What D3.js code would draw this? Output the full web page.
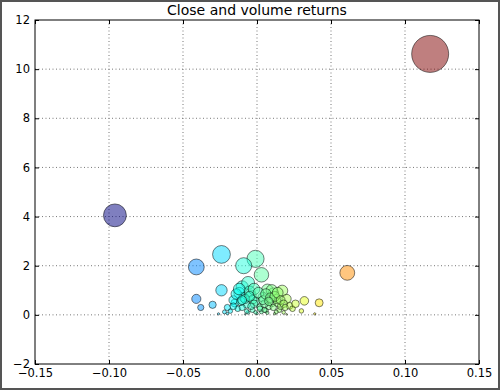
<!DOCTYPE html>
<html>
<head>
<meta charset="utf-8">
<script src="https://cdn.jsdelivr.net/npm/d3@7"></script>
<style>
  body { margin: 0; background: #fff; }
  svg { display: block; font-family: "DejaVu Sans", sans-serif; }
</style>
</head>
<body>
<svg id="chart" width="500" height="390"></svg>
<script>
// close returns (x) and volume returns (y), only the points that get drawn
const closeReturns = [
  0.117, -0.096, 0.061, -0.041, -0.024, -0.001, -0.009, 0.003, -0.024, -0.041,
  -0.038, -0.030, -0.020, -0.026, -0.010, -0.006, 0.007, 0.017, 0.020, 0.022,
  0.032, 0.042, 0.030, 0.039, -0.012, -0.009, -0.015, -0.007, -0.004, 0.004,
  0.011, 0.010, 0.014, 0.002, -0.003, 0.006, 0.015, 0.018, -0.018, -0.013,
  -0.022, -0.001, 0.008, -0.006, 0.000, 0.012, -0.016, -0.005, 0.013, 0.005,
  -0.010, 0.024, -0.002, 0.010, 0.016, -0.011, 0.003, -0.008, 0.020, -0.020,
  0.026, -0.003,
  -0.014, -0.012, -0.008, -0.005, -0.002, 0.001, 0.004, 0.006, 0.009, 0.012,
  0.014, 0.016, 0.018, 0.008, 0.002, -0.004, -0.010, -0.016, 0.011, 0.005,
  -0.007, 0.019, 0.013, -0.001, 0.007
];
const volumeReturns = [
  10.62, 4.05, 1.71, 1.95, 2.46, 2.28, 2.00, 1.63, 1.00, 0.65,
  0.30, 0.41, 0.30, 0.04, 1.14, 1.30, 1.02, 0.98, 0.65, 0.37,
  0.57, 0.49, 0.16, 0.04, 0.90, 0.72, 0.48, 0.42, 0.80, 0.72,
  0.88, 0.50, 0.50, 0.32, 0.20, 0.18, 0.20, 0.10, 0.15, 0.25,
  0.12, 0.55, 0.35, 0.10, 0.05, 0.05, 0.60, 0.95, 0.65, 0.45,
  0.30, 0.25, 1.05, 1.00, 0.35, 0.55, 0.12, 0.02, 0.02, 0.05,
  0.45, 0.62,
  0.85, 1.05, 0.65, 0.75, 0.45, 0.90, 0.60, 0.85, 0.70, 0.75,
  0.90, 0.60, 0.45, 0.55, 0.25, 0.35, 0.60, 0.35, 0.30, 0.20,
  0.15, 0.30, 0.12, 0.10, 0.08
];
const xTicks = [-0.15, -0.10, -0.05, 0.00, 0.05, 0.10, 0.15];
const yTicks = [-2, 0, 2, 4, 6, 8, 10, 12];
const title = "Close and volume returns";

const points = closeReturns.map((d, i) => ({ ret: d, vol: volumeReturns[i] }));

const svg = d3.select("#chart");
const margin = { top: 20, right: 21, bottom: 26, left: 35 };
const width = +svg.attr("width") - margin.left - margin.right;
const height = +svg.attr("height") - margin.top - margin.bottom;

// outer frame of the picture
svg.append("rect")
  .attr("x", 1).attr("y", 1)
  .attr("width", 498).attr("height", 388)
  .attr("fill", "#fff")
  .attr("stroke", "#555")
  .attr("stroke-width", 2);

const x = d3.scaleLinear().domain([-0.15, 0.15]).range([0, width]);
const y = d3.scaleLinear().domain([-2, 12]).range([height, 0]);
const r = d3.scaleSqrt().domain([0, 10.62]).range([0, 18.5]);

// jet colormap, like matplotlib
function jet(t) {
  const c = v => Math.max(0, Math.min(1, v));
  const red = c(Math.min(4 * t - 1.5, -4 * t + 4.5));
  const green = c(Math.min(4 * t - 0.5, -4 * t + 3.5));
  const blue = c(Math.min(4 * t + 0.5, -4 * t + 2.5));
  return d3.rgb(red * 255, green * 255, blue * 255).toString();
}
const colorT = d3.scaleLinear().domain(d3.extent(closeReturns)).range([0, 1]);

const g = svg.append("g")
  .attr("transform", `translate(${margin.left},${margin.top})`);

// grid
g.append("g").selectAll("line")
  .data(xTicks.slice(1, -1))
  .enter().append("line")
  .attr("x1", d => x(d)).attr("x2", d => x(d))
  .attr("y1", 0).attr("y2", height)
  .attr("stroke", "#777").attr("stroke-width", 1)
  .attr("stroke-dasharray", "1,2.5");
g.append("g").selectAll("line")
  .data(yTicks.slice(1, -1))
  .enter().append("line")
  .attr("x1", 0).attr("x2", width)
  .attr("y1", d => y(d)).attr("y2", d => y(d))
  .attr("stroke", "#777").attr("stroke-width", 1)
  .attr("stroke-dasharray", "1,2.5");

// bubbles
g.append("g").selectAll("circle")
  .data(points)
  .enter().append("circle")
  .attr("cx", d => x(d.ret))
  .attr("cy", d => y(d.vol))
  .attr("r", d => r(d.vol))
  .attr("fill", d => jet(colorT(d.ret)))
  .attr("fill-opacity", 0.5)
  .attr("stroke", "#000")
  .attr("stroke-opacity", 0.5)
  .attr("stroke-width", 1);

// axes, ticks pointing inwards on all four sides
const fmtX = d3.format(".2f");
const axisStyle = sel => {
  sel.select(".domain").remove();
  sel.selectAll("text").attr("font-size", 11.5).attr("fill", "#000")
    .attr("font-family", "DejaVu Sans, sans-serif");
  sel.selectAll("line").attr("stroke", "#000");
};
g.append("g")
  .attr("transform", `translate(0,${height})`)
  .call(d3.axisBottom(x).tickValues(xTicks).tickFormat(fmtX).tickSize(-4).tickPadding(5))
  .call(axisStyle);
g.append("g")
  .call(d3.axisTop(x).tickValues(xTicks).tickFormat("").tickSize(-4))
  .call(axisStyle);
g.append("g")
  .call(d3.axisLeft(y).tickValues(yTicks).tickFormat(d3.format("d")).tickSize(-4).tickPadding(5))
  .call(axisStyle);
g.append("g")
  .attr("transform", `translate(${width},0)`)
  .call(d3.axisRight(y).tickValues(yTicks).tickFormat("").tickSize(-4))
  .call(axisStyle);

g.append("rect")
  .attr("width", width).attr("height", height)
  .attr("fill", "none").attr("stroke", "#000").attr("stroke-width", 1);

svg.append("text")
  .attr("x", margin.left + width / 2)
  .attr("y", 15)
  .attr("text-anchor", "middle")
  .attr("font-size", 14)
  .text(title);
</script>
</body>
</html>
